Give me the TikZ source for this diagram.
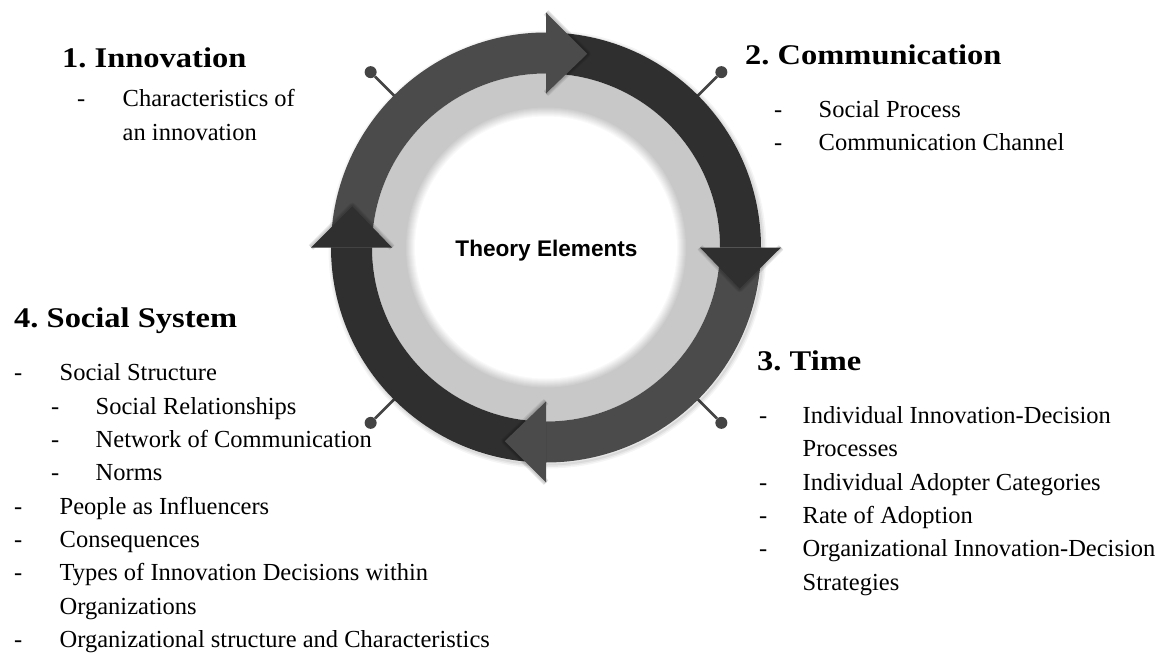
\documentclass[tikz,border=0pt]{standalone}
\usepackage{fontspec}
\setmainfont{Liberation Serif}
\newfontfamily\labelsans{Liberation Sans}
\usepackage{graphicx}
\frenchspacing
\definecolor{ringmid}{HTML}{4B4B4B}
\definecolor{ringdark}{HTML}{2F2F2F}
\definecolor{ringlight}{HTML}{C8C8C8}
\definecolor{pincol}{HTML}{444444}
\tikzset{
  bodytext/.style={anchor=base west, inner sep=0pt, font=\fontsize{24.5}{28}\selectfont},
  titletext/.style={anchor=base west, inner sep=0pt},
  pindot/.style={circle, fill=pincol, minimum size=12pt, inner sep=0pt},
  pinline/.style={draw=pincol, line width=2.5pt},
  centerlabel/.style={anchor=base, inner sep=0pt, font={\labelsans\bfseries\fontsize{22.6}{26}\selectfont}},
}
\newcommand{\ttlbox}[1]{\scalebox{1.14}[1]{\fontsize{28.5}{30}\selectfont\bfseries\frenchspacing #1}}
\begin{document}
\begin{tikzpicture}[x=1pt,y=1pt]
\useasboundingbox (0,-653) rectangle (1159,0);
\fill[white] (0,-653) rectangle (1159,0);

\begin{scope}[shift={(546,-247.5)}]
  % pins
  \foreach \ang/\nm in {135/a,45/b,-45/c,-135/d}{
    \node[pindot] (pin\nm) at (\ang:248) {};
    \coordinate (pinend\nm) at (\ang:212);
    \draw[pinline] (pin\nm) -- (pinend\nm);
  }
  % soft outer shadow
  \foreach \w/\o in {8/0.04,5/0.05,2/0.06}{
    \draw[black, opacity=\o, line width=\w pt] (1.5,-2) circle[radius=215];
  }
  % light ring
  \fill[ringlight] (0,0) circle[radius=174];
  \foreach \i in {0,...,10}{
    \pgfmathtruncatemacro\p{\i*10}
    \fill[white!\p!ringlight] (0,0) circle[radius=141-\i];
  }
  % ring bodies
  \foreach \a/\b/\c in {180/90/ringmid, 90/0/ringdark, 0/-90/ringmid, -90/-180/ringdark}{
    \fill[\c] (\a:215) arc[start angle=\a, end angle=\b, radius=215]
      -- (\b:174) arc[start angle=\b, end angle=\a, radius=174] -- cycle;
  }
  % arrow heads
  \foreach \a/\c in {90/ringmid, 0/ringdark, -90/ringmid, -180/ringdark}{
    \foreach \w in {7,5,3}{
      \draw[black, opacity=0.07, line width=\w pt, line join=round]
        (\a:154) -- ({\a-12}:198) -- (\a:235);
    }
    \fill[\c] (\a:154) -- (\a:235) -- ({\a-12}:198) -- cycle;
  }
\end{scope}

\node[centerlabel] (center) at (546.5,-256.5) {Theory Elements};

% 1. Innovation
\node[titletext] (t1) at (62,-67.5) {\ttlbox{1. Innovation}};
\node[bodytext] (i1d) at (77,-106) {-};
\node[bodytext] (i1a) at (122.5,-106) {Characteristics of};
\node[bodytext] (i1b) at (122.5,-140) {an innovation};

% 2. Communication
\node[titletext] (t2) at (745,-64.5) {\ttlbox{2. Communication}};
\node[bodytext] (c1d) at (774,-117) {-};
\node[bodytext] (c1) at (818.5,-117) {Social Process};
\node[bodytext] (c2d) at (774,-150.5) {-};
\node[bodytext] (c2) at (818.5,-150.5) {Communication Channel};

% 3. Time
\node[titletext] (t3) at (757,-370) {\ttlbox{3. Time}};
\node[bodytext] (m1d) at (759,-423.3) {-};
\node[bodytext] (m1a) at (802.5,-423.3) {Individual Innovation-Decision};
\node[bodytext] (m1b) at (802.5,-456.7) {Processes};
\node[bodytext] (m2d) at (759,-490) {-};
\node[bodytext] (m2) at (802.5,-490) {Individual Adopter Categories};
\node[bodytext] (m3d) at (759,-523.3) {-};
\node[bodytext] (m3) at (802.5,-523.3) {Rate of Adoption};
\node[bodytext] (m4d) at (759,-556.7) {-};
\node[bodytext] (m4a) at (802.5,-556.7) {Organizational Innovation-Decision};
\node[bodytext] (m4b) at (802.5,-590) {Strategies};

% 4. Social System
\node[titletext] (t4) at (14,-327.5) {\ttlbox{4. Social System}};
\node[bodytext] (s1d) at (14,-380.7) {-};
\node[bodytext] (s1) at (59.5,-380.7) {Social Structure};
\node[bodytext] (s2d) at (51,-414) {-};
\node[bodytext] (s2) at (95.5,-414) {Social Relationships};
\node[bodytext] (s3d) at (51,-447.3) {-};
\node[bodytext] (s3) at (95.5,-447.3) {Network of Communication};
\node[bodytext] (s4d) at (51,-480.7) {-};
\node[bodytext] (s4) at (95.5,-480.7) {Norms};
\node[bodytext] (s5d) at (14,-514) {-};
\node[bodytext] (s5) at (59.5,-514) {People as Influencers};
\node[bodytext] (s6d) at (14,-547.3) {-};
\node[bodytext] (s6) at (59.5,-547.3) {Consequences};
\node[bodytext] (s7d) at (14,-580.7) {-};
\node[bodytext] (s7a) at (59.5,-580.7) {Types of Innovation Decisions within};
\node[bodytext] (s7b) at (59.5,-614) {Organizations};
\node[bodytext] (s8d) at (14,-647.3) {-};
\node[bodytext] (s8) at (59.5,-647.3) {Organizational structure and Characteristics};
\end{tikzpicture}
\end{document}
